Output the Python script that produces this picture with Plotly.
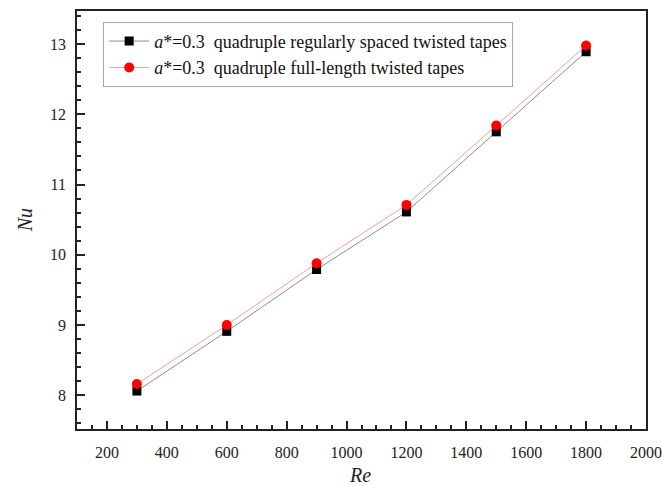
import plotly.graph_objects as go

re_vals = [300, 600, 900, 1200, 1500, 1800]
nu_spaced = [8.06, 8.91, 9.79, 10.61, 11.75, 12.89]
nu_full = [8.16, 9.00, 9.88, 10.71, 11.84, 12.98]
name_spaced = "<i>a</i>*=0.3&nbsp;&nbsp;quadruple regularly spaced twisted tapes"
name_full = "<i>a</i>*=0.3&nbsp;&nbsp;quadruple full-length twisted tapes"
x_title = "<i>Re</i>"
y_title = "<i>Nu</i>"

font_family = "Liberation Serif"

fig = go.Figure()
fig.add_trace(go.Scatter(
    x=re_vals, y=nu_spaced, mode="lines+markers", name=name_spaced,
    line=dict(color="#8c8c8c", width=1),
    marker=dict(symbol="square", size=9, color="black"),
))
fig.add_trace(go.Scatter(
    x=re_vals, y=nu_full, mode="lines+markers", name=name_full,
    line=dict(color="#ff9a9a", width=1),
    marker=dict(symbol="circle", size=10, color="red"),
))

axis_common = dict(
    showline=True, linecolor="#222", linewidth=1.8, mirror=True,
    ticks="inside", ticklen=8, tickwidth=1.5, tickcolor="#222",
    showgrid=False, zeroline=False, automargin=False,
    tickfont=dict(family=font_family, size=16, color="#222"),
    minor=dict(ticks="inside", ticklen=4, tickwidth=1.5, tickcolor="#222", showgrid=False),
)

fig.update_xaxes(range=[100, 2000], dtick=200, tick0=0, ticklabelstandoff=8, **axis_common)
fig.update_yaxes(range=[7.52, 13.47], dtick=1, tick0=0, ticklabelstandoff=6, **axis_common)

fig.add_annotation(text=x_title, xref="paper", yref="paper", x=0.497, y=-0.11,
                   xanchor="center", yanchor="middle", showarrow=False,
                   font=dict(family=font_family, size=20, color="#222"))
fig.add_annotation(text=y_title, xref="paper", yref="paper", x=-0.068, y=0.5,
                   xanchor="right", yanchor="middle", showarrow=False, textangle=-90,
                   font=dict(family=font_family, size=20, color="#222"))

fig.update_layout(
    width=662, height=486,
    margin=dict(l=77, r=16, t=11, b=57),
    plot_bgcolor="white", paper_bgcolor="white",
    font=dict(family=font_family, color="#111"),
    legend=dict(
        x=0.046, y=0.974, xanchor="left", yanchor="top",
        bordercolor="#aaa", borderwidth=1, bgcolor="white",
        font=dict(family=font_family, size=18, color="#111"),
        tracegroupgap=0, itemwidth=40,
    ),
)

fig.write_html("out.html")
